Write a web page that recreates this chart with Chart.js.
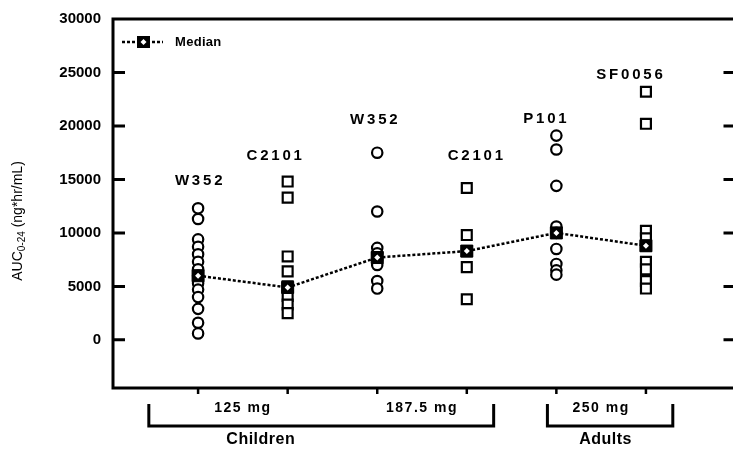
<!DOCTYPE html>
<html>
<head>
<meta charset="utf-8">
<script src="https://cdn.jsdelivr.net/npm/chart.js@4"></script>
<style>
  html, body { margin: 0; padding: 0; background: #fff; }
  #wrap { width: 733px; height: 452px; overflow: hidden; }
</style>
</head>
<body>
<div id="wrap"><canvas id="auc" width="745" height="452"></canvas></div>
<script>
const groupNames = ['W352', 'C2101', 'W352', 'C2101', 'P101', 'SF0056'];
const doseLabels = ['125 mg', '187.5 mg', '250 mg'];
const cohortLabels = ['Children', 'Adults'];
const yTicks = [0, 5000, 10000, 15000, 20000, 25000, 30000];

// AUC 0-24 per patient, ng*hr/mL
const w352Low = [12300, 11300, 9400, 8700, 8000, 7300, 6600, 6000, 5300, 4700, 4000, 2900, 1600, 600];
const c2101Low = [14800, 13300, 7800, 6400, 5000, 4100, 3300, 2500];
const w352Mid = [17500, 12000, 8600, 8100, 7500, 7000, 5500, 4800];
const c2101Mid = [14200, 9800, 8300, 6800, 3800];
const p101 = [19100, 17800, 14400, 10600, 10000, 8500, 7100, 6500, 6100];
const sf0056 = [23200, 20200, 10200, 9500, 8800, 7300, 6600, 5500, 4800];
const medians = [6000, 4900, 7700, 8300, 10000, 8800];

const groups = [w352Low, c2101Low, w352Mid, c2101Mid, p101, sf0056];
const shapes = ['circle', 'rect', 'circle', 'rect', 'circle', 'rect'];

const FONT = '"Liberation Sans", Arial, sans-serif';

const datasets = groups.map((vals, i) => ({
	label: groupNames[i],
	data: vals.map(v => ({ x: i + 1, y: v })),
	pointStyle: shapes[i],
	pointRadius: shapes[i] === 'circle' ? 5.2 : 7,
	pointBackgroundColor: '#fff',
	pointBorderColor: '#000',
	pointBorderWidth: 2.2,
	showLine: false,
	order: 3,
}));

datasets.push({
	label: 'Median',
	data: medians.map((v, i) => ({ x: i + 1, y: v })),
	showLine: true,
	borderColor: '#000',
	borderWidth: 2.5,
	borderDash: [3, 2],
	pointStyle: 'rect',
	pointRadius: 8.5,
	pointBackgroundColor: '#000',
	pointBorderColor: '#000',
	pointBorderWidth: 1,
	order: 2,
});

// white dot inside each median marker
datasets.push({
	label: 'MedianDot',
	data: medians.map((v, i) => ({ x: i + 1, y: v })),
	showLine: false,
	pointStyle: 'rectRot',
	pointRadius: 3,
	pointBackgroundColor: '#fff',
	pointBorderWidth: 0,
	order: 1,
});

function text(ctx, str, x, y, font, align, spacing) {
	ctx.save();
	ctx.font = font;
	ctx.fillStyle = '#000';
	ctx.textAlign = align || 'center';
	ctx.textBaseline = 'middle';
	ctx.letterSpacing = (spacing || 0) + 'px';
	ctx.fillText(str, x, y);
	ctx.restore();
}

const framePlugin = {
	id: 'frame',
	beforeDatasetsDraw(chart, args, opts) {
		const { ctx, chartArea: a, scales: { x, y } } = chart;
		ctx.save();
		ctx.strokeStyle = '#000';
		ctx.lineWidth = 3;
		ctx.strokeRect(a.left, a.top, a.right - a.left, a.bottom - a.top);

		// inward ticks on both vertical sides
		yTicks.filter(v => v < y.max).forEach(v => {
			const py = y.getPixelForValue(v);
			ctx.beginPath();
			ctx.moveTo(a.left, py); ctx.lineTo(a.left + 12, py);
			ctx.moveTo(a.right, py); ctx.lineTo(a.right - 12, py);
			ctx.stroke();
		});

		// outward ticks under each group
		ctx.lineWidth = 2.5;
		groups.forEach((g, i) => {
			const px = x.getPixelForValue(i + 1);
			ctx.beginPath();
			ctx.moveTo(px, a.bottom); ctx.lineTo(px, a.bottom + 6);
			ctx.stroke();
		});

		// dose labels between tick pairs
		opts.doseAt.forEach((xv, i) => {
			text(ctx, doseLabels[i], x.getPixelForValue(xv), a.bottom + 20, 'bold 14px ' + FONT, 'center', 1.5);
		});

		// cohort brackets
		ctx.lineWidth = 3;
		opts.brackets.forEach(([x0, x1]) => {
			const p0 = x.getPixelForValue(x0), p1 = x.getPixelForValue(x1);
			ctx.beginPath();
			ctx.moveTo(p0, a.bottom + 16);
			ctx.lineTo(p0, a.bottom + 38);
			ctx.lineTo(p1, a.bottom + 38);
			ctx.lineTo(p1, a.bottom + 16);
			ctx.stroke();
		});
		opts.cohortAt.forEach((xv, i) => {
			text(ctx, cohortLabels[i], x.getPixelForValue(xv), a.bottom + 52, 'bold 16px ' + FONT, 'center', 0.5);
		});

		// study labels above each group
		groupNames.forEach((name, i) => {
			text(ctx, name, x.getPixelForValue(i + 1) + opts.labelDx[i], y.getPixelForValue(opts.labelY[i]),
				'bold 15px ' + FONT, 'center', 2.8);
		});

		// legend
		const ly = a.top + 23;
		ctx.setLineDash([3, 2]);
		ctx.lineWidth = 2.5;
		ctx.beginPath();
		ctx.moveTo(a.left + 9, ly); ctx.lineTo(a.left + 50, ly);
		ctx.stroke();
		ctx.setLineDash([]);
		ctx.fillStyle = '#000';
		ctx.fillRect(a.left + 24, ly - 6, 13, 12);
		ctx.fillStyle = '#fff';
		ctx.beginPath();
		ctx.moveTo(a.left + 30.5, ly - 3); ctx.lineTo(a.left + 33.5, ly);
		ctx.lineTo(a.left + 30.5, ly + 3); ctx.lineTo(a.left + 27.5, ly);
		ctx.fill();
		text(ctx, 'Median', a.left + 62, ly, 'bold 13px ' + FONT, 'left', 0.3);

		// y axis title with subscript
		ctx.translate(18, 221);
		ctx.rotate(-Math.PI / 2);
		ctx.fillStyle = '#000';
		ctx.textBaseline = 'middle';
		const parts = [['AUC', '14px', 0], ['0-24', '10px', 4], [' (ng*hr/mL)', '14px', 0]];
		let w = 0;
		parts.forEach(p => { ctx.font = p[1] + ' ' + FONT; w += ctx.measureText(p[0]).width; });
		let cx = -w / 2;
		parts.forEach(p => {
			ctx.font = p[1] + ' ' + FONT;
			ctx.textAlign = 'left';
			ctx.fillText(p[0], cx, p[2]);
			cx += ctx.measureText(p[0]).width;
		});
		ctx.restore();
	}
};

new Chart(document.getElementById('auc'), {
	type: 'scatter',
	data: { datasets },
	options: {
		responsive: false,
		animation: false,
		devicePixelRatio: 1,
		layout: { padding: { left: 0, top: 19, right: 8, bottom: 64 } },
		plugins: {
			legend: { display: false },
			tooltip: { enabled: false },
			frame: {
				doseAt: [1.5, 3.5, 5.5],
				brackets: [[0.45, 4.3], [4.9, 6.3]],
				cohortAt: [1.7, 5.55],
				labelY: [14900, 17200, 20600, 17200, 20700, 24800],
				labelDx: [2, -12, -2, 10, -10, -15],
			},
		},
		scales: {
			x: { type: 'linear', min: 0.05, max: 7, display: false },
			y: {
				type: 'linear',
				min: -4500,
				max: 30000,
				afterFit(axis) { axis.width = 113; },
				afterBuildTicks(axis) { axis.ticks = yTicks.map(v => ({ value: v })); },
				grid: { display: false },
				border: { display: false },
				ticks: {
					color: '#000',
					padding: 4,
					font: { family: FONT, size: 15, weight: 'bold' },
					callback: v => String(v),
				},
			},
		},
	},
	plugins: [framePlugin],
});
</script>
</body>
</html>
